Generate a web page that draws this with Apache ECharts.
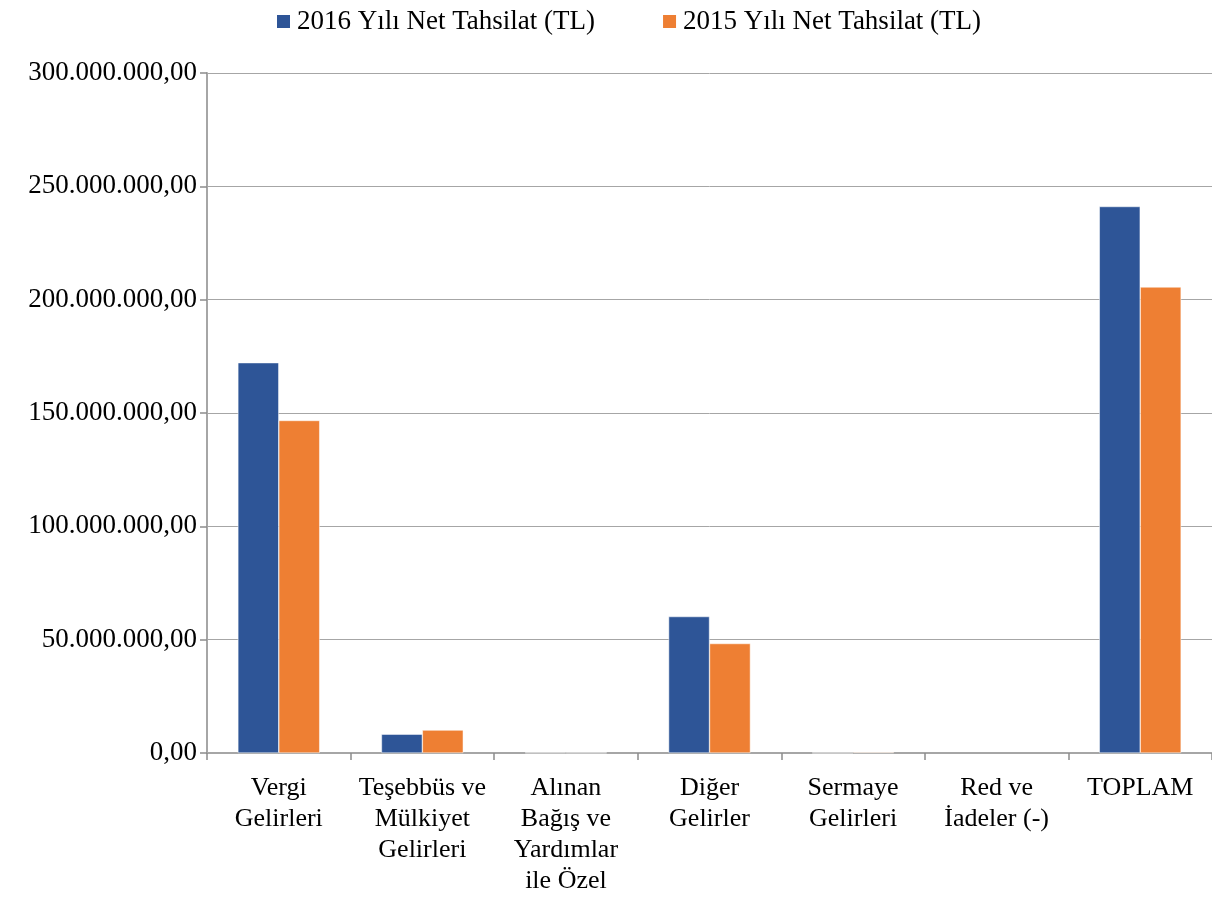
<!DOCTYPE html>
<html>
<head>
<meta charset="utf-8">
<script src="https://cdn.jsdelivr.net/npm/echarts@6/dist/echarts.min.js"></script>
<style>
	html, body { margin: 0; padding: 0; background: #fff; }
	#chart { width: 1212px; height: 897px; }
</style>
</head>
<body>
<div id="chart"></div>
<script>
const categories = [
	'Vergi\nGelirleri',
	'Teşebbüs ve\nMülkiyet\nGelirleri',
	'Alınan\nBağış ve\nYardımlar\nile Özel',
	'Diğer\nGelirler',
	'Sermaye\nGelirleri',
	'Red ve\nİadeler (-)',
	'TOPLAM'
];
const seriesNames = ['2016 Yılı Net Tahsilat (TL)', '2015 Yılı Net Tahsilat (TL)'];
const values2016 = [172200000, 8300000, 150000, 60200000, 50000, -50000, 241100000];
const values2015 = [146700000, 10100000, 120000, 48300000, 300000, -80000, 205600000];

// 300.000.000,00 biçimi
const formatTL = v => {
	const parts = Math.abs(v).toFixed(2).split('.');
	const intPart = parts[0].replace(/\B(?=(\d{3})+(?!\d))/g, '.');
	return (v < 0 ? '-' : '') + intPart + ',' + parts[1];
};

const font = 'Liberation Serif';
const chart = echarts.init(document.getElementById('chart'));

chart.setOption({
	animation: false,
	textStyle: { fontFamily: font },
	legend: {
		top: 3,
		left: 270,
		itemWidth: 15,
		itemHeight: 15,
		itemGap: 66,
		icon: 'rect',
		textStyle: { fontFamily: font, fontSize: 27, color: '#000', padding: [0, 0, 0, 1] },
		data: seriesNames
	},
	grid: {
		left: 207,
		right: 0,
		top: 73,
		bottom: 141,
		containLabel: false
	},
	xAxis: {
		type: 'category',
		data: categories,
		axisLine: { lineStyle: { color: '#a6a6a6', width: 2 } },
		axisTick: { show: true, length: 7, lineStyle: { color: '#8c8c8c', width: 1.5 } },
		axisLabel: {
			interval: 0,
			margin: 20,
			color: '#000',
			fontFamily: font,
			fontSize: 26,
			lineHeight: 31
		}
	},
	yAxis: {
		type: 'value',
		min: 0,
		max: 300000000,
		interval: 50000000,
		axisLine: { show: true, lineStyle: { color: '#a6a6a6', width: 2 } },
		axisTick: { show: true, length: 7, lineStyle: { color: '#8c8c8c', width: 1.5 } },
		axisLabel: {
			margin: 10,
			color: '#000',
			fontFamily: font,
			fontSize: 27,
			formatter: formatTL
		},
		splitLine: { lineStyle: { color: '#a6a6a6', width: 1 } }
	},
	series: [
		{
			name: seriesNames[0],
			type: 'bar',
			data: values2016,
			barGap: '0%',
			barCategoryGap: '43%',
			itemStyle: { color: '#2e5597', borderColor: '#ffffff', borderWidth: 0.5 }
		},
		{
			name: seriesNames[1],
			type: 'bar',
			data: values2015,
			itemStyle: { color: '#ee7f33', borderColor: '#ffffff', borderWidth: 0.5 }
		}
	]
});
</script>
</body>
</html>
